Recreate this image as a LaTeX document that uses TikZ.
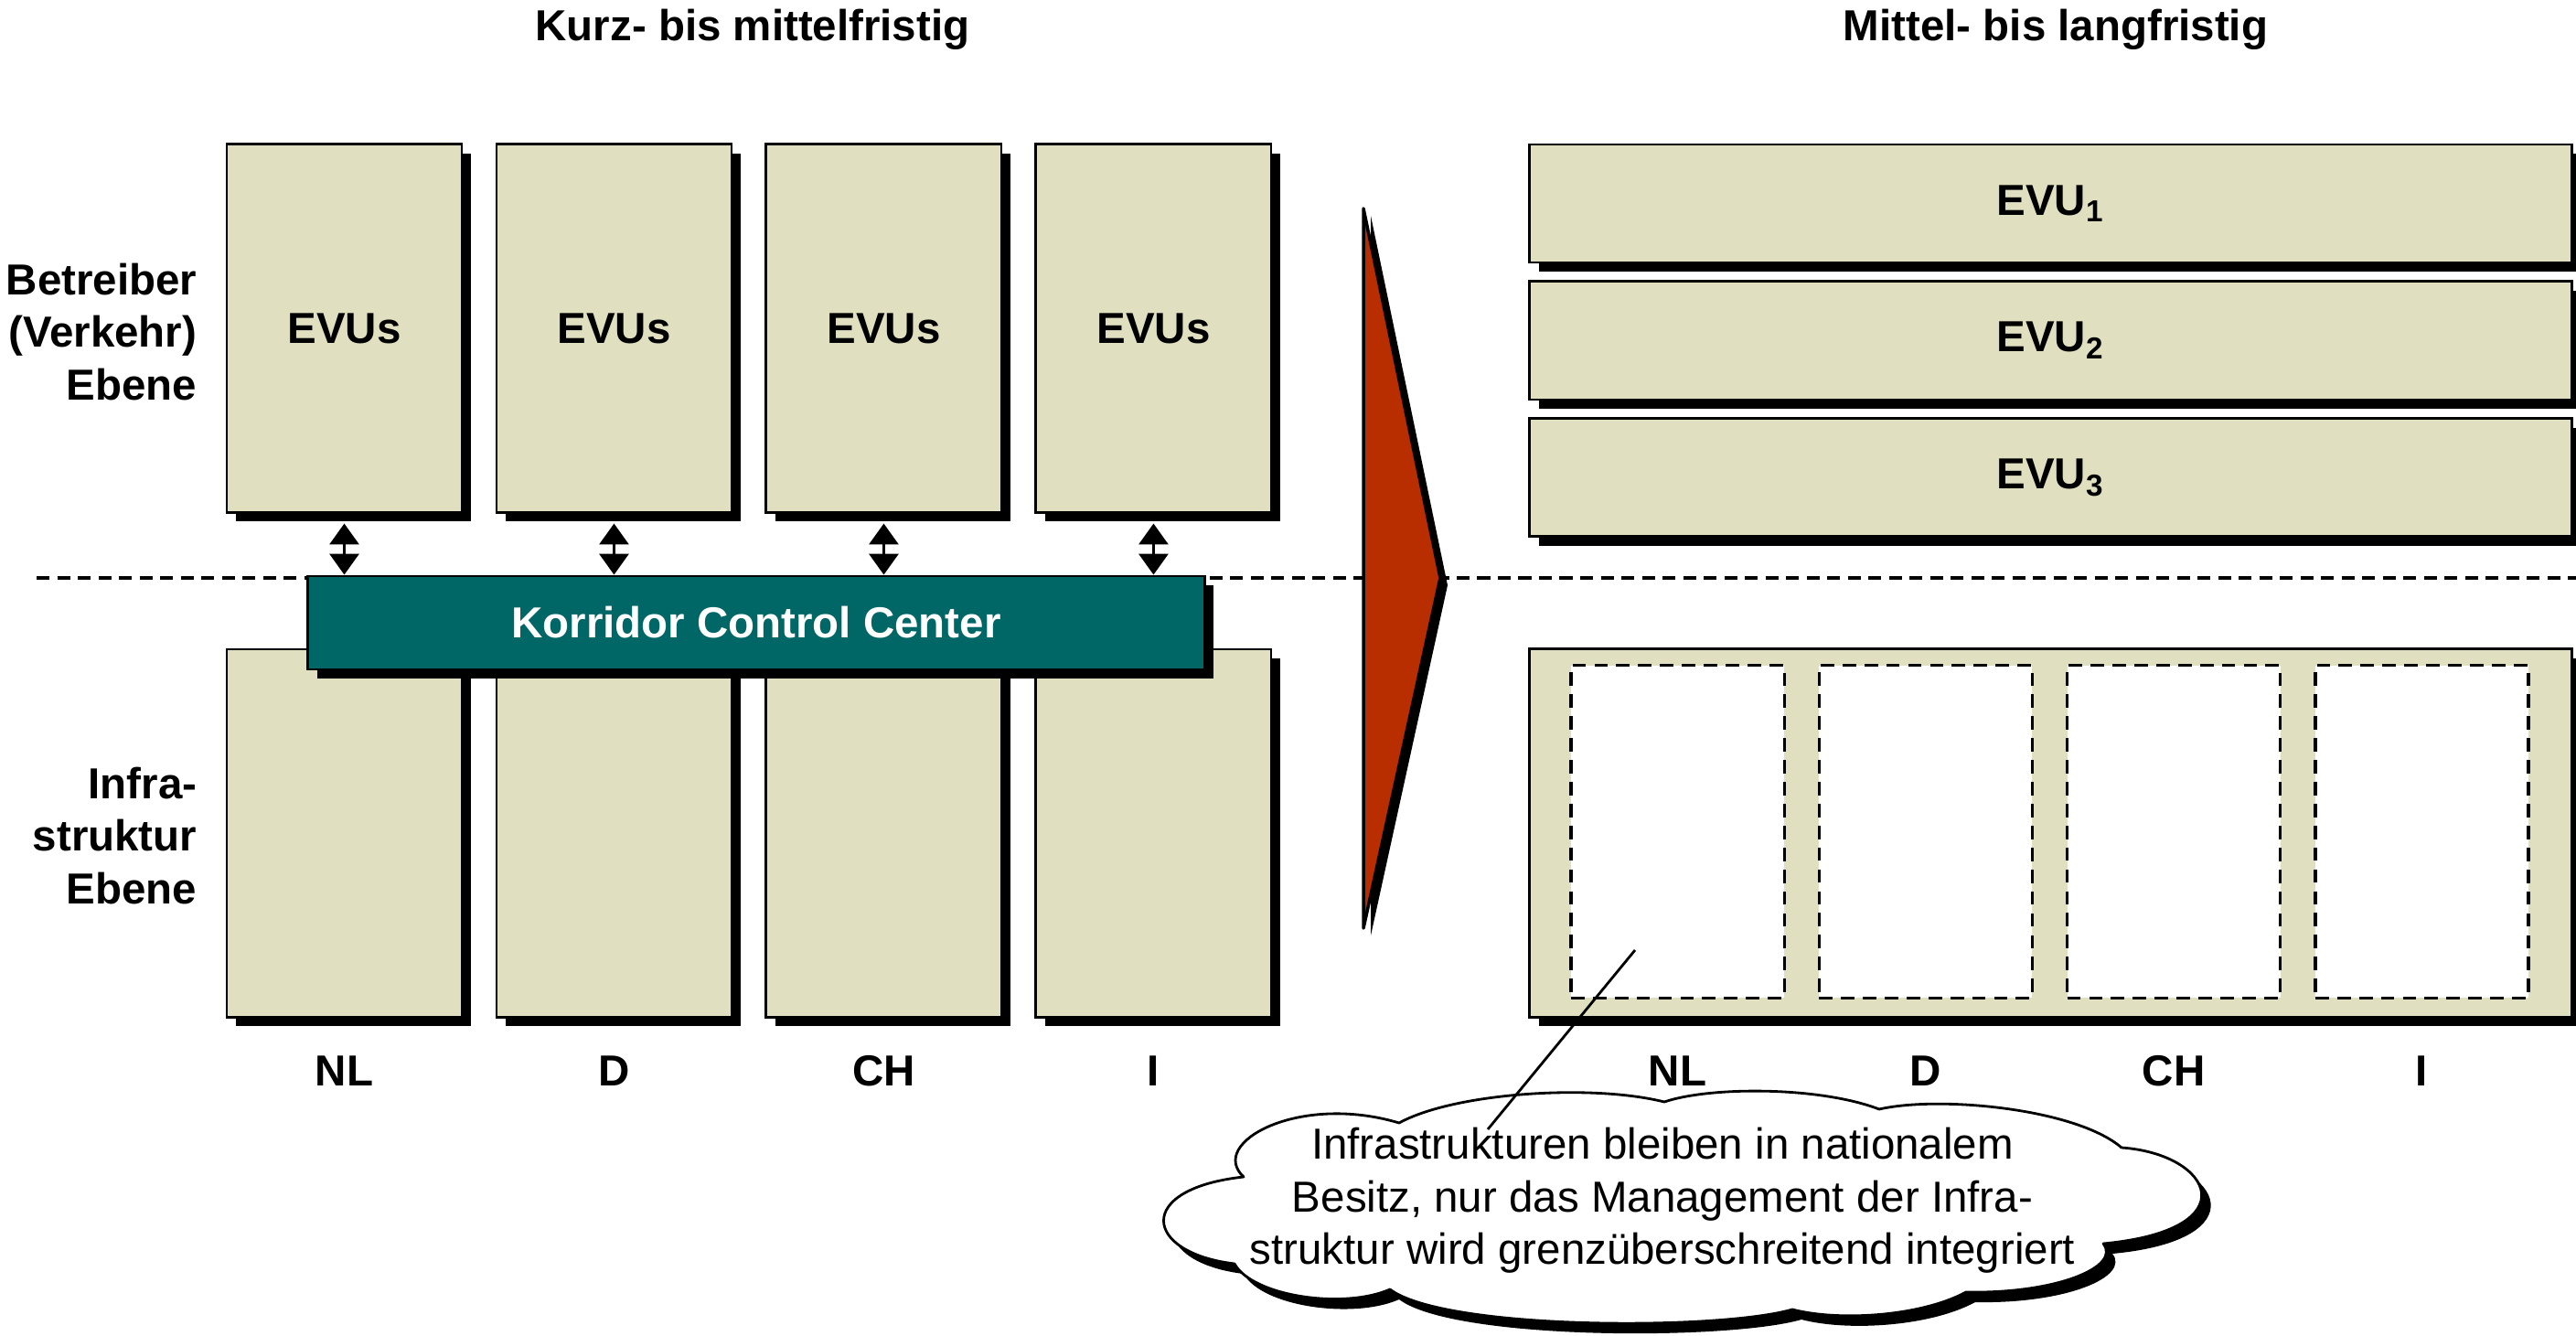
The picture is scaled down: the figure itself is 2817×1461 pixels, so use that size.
\documentclass[tikz,border=0pt]{standalone}
\usepackage{fontspec}
\setmainfont{Liberation Sans}
\usepackage{tikz}
\usetikzlibrary{arrows.meta,positioning,calc,shadows}
\definecolor{boxbeige}{RGB}{224,224,192}
\definecolor{kccteal}{RGB}{0,102,102}
\definecolor{arrowred}{RGB}{184,46,0}

\begin{document}
\begin{tikzpicture}[
  x=0.01cm, y=-0.01cm,
  node distance=0.35cm,
  font=\fontsize{13.5}{16.4}\selectfont,
  shadowed/.style={drop shadow={shadow xshift=0.1cm, shadow yshift=-0.1cm, fill=black, opacity=1}},
  land/.style={rectangle, draw, line width=0.8pt, fill=boxbeige, shadowed, inner sep=0pt, minimum width=2.57cm, minimum height=4.02cm, font=\fontsize{13.5}{16.4}\selectfont\bfseries},
  lane/.style={rectangle, draw, line width=0.8pt, fill=boxbeige, shadowed, inner sep=0pt, minimum width=11.39cm, minimum height=1.29cm, font=\fontsize{13.5}{16.4}\selectfont\bfseries},
  slot/.style={rectangle, draw, fill=white, dash pattern=on 4.2pt off 2.6pt, line width=0.9pt, inner sep=0pt, minimum width=2.33cm, minimum height=3.63cm},
  lbl/.style={font=\fontsize{13.5}{16.4}\selectfont\bfseries},
  arrow/.style={{Triangle[length=6.5pt,width=9pt]}-{Triangle[length=6.5pt,width=9pt]}, line width=1.1pt},
  bubble/.style={draw, line width=0.8pt, line join=round, fill=white, drop shadow={shadow xshift=0.1cm, shadow yshift=-0.11cm, fill=black, opacity=1}},
]
  \useasboundingbox (0,0) rectangle (2817,1461);

  % Headings
  \node[lbl] (headL) at (823,32) {Kurz- bis mittelfristig};
  \node[lbl] (headR) at (2248,32) {Mittel- bis langfristig};

  % Level line
  \draw[line width=1pt, dash pattern=on 4pt off 2.4pt] (40,632) coordinate (lineL) -- (2817,632) coordinate (lineR);

  % Row labels
  \node[lbl, align=right, anchor=east, inner sep=0pt] (rowOp) at (216,363) {Betreiber\\(Verkehr)\\Ebene};
  \node[lbl, align=right, anchor=east, inner sep=0pt] (rowInf) at (216,914) {Infra-\\struktur\\Ebene};

  % Short to medium term: operators
  \node[land] (evuNL) at (376.5,359) {EVUs};
  \node[land, right=of evuNL] (evuD) {EVUs};
  \node[land, right=of evuD] (evuCH) {EVUs};
  \node[land, right=of evuCH] (evuI) {EVUs};

  % Short to medium term: infrastructure
  \node[land, below=1.47cm of evuNL] (infNL) {};
  \node[land, below=1.47cm of evuD] (infD) {};
  \node[land, below=1.47cm of evuCH] (infCH) {};
  \node[land, below=1.47cm of evuI] (infI) {};

  % Corridor control center
  \node[rectangle, draw, line width=0.8pt, fill=kccteal, shadowed, text=white, lbl, minimum width=9.8cm, minimum height=1.02cm] (kcc) at (827,681) {Korridor Control Center};

  \foreach \c in {NL,D,CH,I}{
    \draw[arrow] ([yshift=-0.11cm]evu\c.south) -- (evu\c.south |- kcc.north);
    \node[lbl] (lbl\c) at (inf\c.center |- 0,1171) {\c};
  }

  % Transition arrow
  \filldraw[fill=arrowred, line width=1pt, line join=round, drop shadow={shadow xshift=0.08cm, shadow yshift=-0.08cm, fill=black, opacity=1}]
    (1491,228) -- (1575,632) -- (1491,1015) -- cycle;

  % Medium to long term: operators
  \node[lane] (evuOne) at (2242.5,222.5) {EVU\textsubscript{1}};
  \node[lane, below=0.18cm of evuOne] (evuTwo) {EVU\textsubscript{2}};
  \node[lane, below=0.18cm of evuTwo] (evuThree) {EVU\textsubscript{3}};

  % Medium to long term: infrastructure
  \node[rectangle, draw, line width=0.8pt, fill=boxbeige, shadowed, minimum width=11.39cm, minimum height=4.02cm] (infAll) at (2242.5,911) {};
  \node[slot] (slotNL) at (1834.5,909.5) {};
  \node[slot, right=0.35cm of slotNL] (slotD) {};
  \node[slot, right=0.35cm of slotD] (slotCH) {};
  \node[slot, right=0.35cm of slotCH] (slotI) {};
  \foreach \c in {NL,D,CH,I}
    \node[lbl] (rlbl\c) at (slot\c.center |- 0,1171) {\c};

  % Comment cloud
  \path[bubble] (1360,1287)
    .. controls (1320,1250) and (1420,1195) .. (1530,1228)
    .. controls (1590,1195) and (1740,1185) .. (1820,1205)
    .. controls (1870,1188) and (1990,1188) .. (2055,1213)
    .. controls (2120,1198) and (2270,1212) .. (2320,1255)
    .. controls (2420,1262) and (2460,1345) .. (2300,1360)
    .. controls (2320,1385) and (2250,1415) .. (2150,1413)
    .. controls (2100,1440) and (2010,1445) .. (1960,1432)
    .. controls (1880,1455) and (1580,1455) .. (1520,1410)
    .. controls (1470,1432) and (1370,1418) .. (1350,1382)
    .. controls (1250,1370) and (1240,1300) .. cycle;
  \node[align=center] (noteText) at (1818,1313) {Infrastrukturen bleiben in nationalem\\Besitz, nur das Management der Infra-\\struktur wird grenzüberschreitend integriert};
  \coordinate (ptr) at (1788,1039);
  \coordinate (ptrEnd) at (1627,1235);
  \draw[line width=0.8pt] (ptr) -- (ptrEnd);
\end{tikzpicture}
\end{document}
